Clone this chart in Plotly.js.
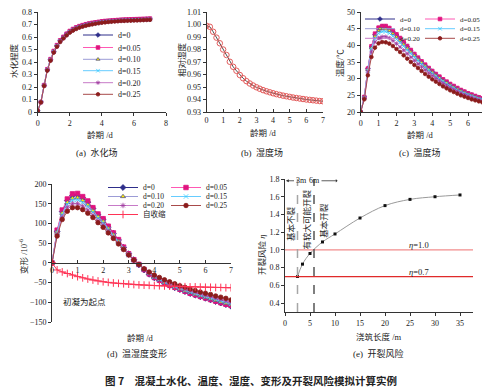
<!DOCTYPE html>
<html><head><meta charset="utf-8">
<script src="https://cdn.plot.ly/plotly-3.0.1.min.js"></script>
<style>html,body{margin:0;padding:0;background:#fff}#chart{width:482px;height:391px}</style>
</head><body><div id="chart"></div>
<script>
// ---------- data ----------
const ages = [0,0.2,0.4,0.6,0.8,1,1.2,1.4,1.6,1.8,2,2.2,2.4,2.6,2.8,3,3.2,3.4,3.6,3.8,4,4.2,4.4,4.6,4.8,5,5.2,5.4,5.6,5.8,6,6.2,6.4,6.6,6.8,7];
const seriesNames = ['d=0','d=0.05','d=0.10','d=0.15','d=0.20','d=0.25'];

// (a) hydration degree
const hyd_d0  = [0.01,0.08,0.215,0.34,0.42,0.485,0.532,0.57,0.598,0.623,0.645,0.661,0.674,0.684,0.692,0.699,0.705,0.71,0.714,0.718,0.722,0.725,0.727,0.729,0.731,0.733,0.735,0.736,0.737,0.738,0.739,0.74,0.741,0.742,0.743,0.744];
const hyd_d05 = [0.01,0.08,0.215,0.342,0.423,0.488,0.535,0.573,0.601,0.626,0.648,0.664,0.677,0.687,0.695,0.702,0.708,0.713,0.717,0.721,0.725,0.728,0.73,0.732,0.734,0.736,0.738,0.739,0.74,0.741,0.742,0.743,0.744,0.745,0.746,0.747];
const hyd_d10 = [0.01,0.08,0.214,0.339,0.419,0.484,0.531,0.569,0.597,0.622,0.644,0.66,0.673,0.683,0.691,0.698,0.704,0.709,0.713,0.717,0.721,0.724,0.726,0.728,0.73,0.732,0.734,0.735,0.736,0.737,0.738,0.739,0.74,0.741,0.742,0.743];
const hyd_d15 = [0.01,0.079,0.212,0.337,0.417,0.482,0.529,0.567,0.595,0.62,0.642,0.658,0.671,0.681,0.689,0.696,0.702,0.707,0.711,0.715,0.719,0.722,0.724,0.726,0.728,0.73,0.732,0.733,0.734,0.735,0.736,0.737,0.738,0.739,0.74,0.741];
const hyd_d20 = [0.01,0.078,0.21,0.334,0.414,0.479,0.526,0.564,0.592,0.617,0.639,0.655,0.668,0.679,0.687,0.694,0.7,0.705,0.709,0.713,0.717,0.72,0.722,0.724,0.726,0.728,0.73,0.731,0.732,0.733,0.734,0.735,0.736,0.737,0.738,0.739];
const hyd_d25 = [0.01,0.077,0.208,0.331,0.41,0.475,0.522,0.56,0.588,0.613,0.635,0.651,0.664,0.675,0.683,0.69,0.696,0.701,0.706,0.71,0.714,0.717,0.72,0.722,0.724,0.726,0.728,0.729,0.73,0.731,0.732,0.733,0.734,0.735,0.736,0.737];

// (b) relative humidity
const humidity = [0.999,0.9982,0.9942,0.9895,0.985,0.98,0.9756,0.9702,0.9662,0.963,0.9596,0.957,0.9547,0.9528,0.9512,0.9498,0.9486,0.9475,0.9466,0.9458,0.945,0.9443,0.9437,0.9431,0.9426,0.9421,0.9416,0.9412,0.9408,0.9404,0.94,0.9397,0.9394,0.9391,0.9388,0.9386];

// (c) temperature
const tmp_d0  = [20,24.5,33,39.5,43.2,45,45.6,45.6,45,44.1,43.1,42,40.8,39.6,38.4,37.2,36.1,35,34,33,32.1,31.2,30.4,29.6,28.9,28.2,27.6,27,26.5,26,25.5,25.1,24.7,24.3,24,23.6];
const tmp_d05 = [20,24.5,33,39.7,43.5,45.3,45.8,45.8,45.2,44.3,43.3,42.2,41,39.8,38.6,37.4,36.3,35.2,34.2,33.2,32.3,31.4,30.6,29.8,29.1,28.4,27.8,27.2,26.6,26.1,25.6,25.2,24.8,24.4,24.1,23.7];
const tmp_d10 = [20,24.3,32.7,39.2,42.7,44.4,44.9,44.9,44.4,43.5,42.5,41.4,40.3,39.1,38,36.9,35.8,34.8,33.8,32.8,31.9,31,30.2,29.4,28.7,28,27.4,26.8,26.3,25.8,25.3,24.9,24.5,24.1,23.8,23.5];
const tmp_d15 = [20,24.2,32.4,38.8,42,43.6,44.1,44.1,43.6,42.8,41.8,40.8,39.7,38.6,37.5,36.4,35.4,34.4,33.4,32.5,31.6,30.7,29.9,29.2,28.5,27.8,27.2,26.6,26.1,25.6,25.2,24.8,24.4,24,23.7,23.4];
const tmp_d20 = [20,24,32,38,41,42.2,42.6,42.6,42.2,41.4,40.5,39.5,38.5,37.5,36.4,35.4,34.4,33.5,32.6,31.7,30.9,30.1,29.3,28.6,27.9,27.3,26.7,26.2,25.7,25.2,24.8,24.4,24,23.7,23.4,23.1];
const tmp_d25 = [20,23.8,31,36.5,39.3,40.6,41,40.9,40.5,39.8,38.9,38,37,36,35,34.1,33.2,32.3,31.4,30.6,29.8,29.1,28.4,27.7,27.1,26.5,26,25.5,25,24.6,24.2,23.8,23.5,23.2,22.9,22.6];

// (d) deformation (1e-6)
const def_d0  = [0,80,130,158,171,172,165,154,138,122,110,91,75,58,39,23,8,-5,-18,-29,-38,-45,-52,-58,-63,-68,-73,-78,-82,-86,-90,-94,-98,-102,-106,-110];
const def_d05 = [0,83,134,162,175,176,168,157,140,124,112,93,76,59,40,23,8,-4,-17,-28,-37,-44,-51,-57,-62,-67,-72,-77,-81,-85,-89,-93,-97,-101,-105,-108];
const def_d10 = [0,78,126,153,164,165,158,147,132,117,105,87,71,55,37,21,7,-5,-17,-27,-36,-43,-50,-56,-61,-66,-71,-75,-79,-83,-87,-91,-95,-99,-102,-106];
const def_d15 = [0,76,122,149,159,160,153,143,129,114,102,85,69,53,36,21,7,-5,-16,-26,-35,-42,-49,-55,-60,-65,-70,-74,-78,-82,-86,-90,-93,-97,-100,-104];
const def_d20 = [0,72,116,141,150,150,144,134,121,107,96,80,65,50,34,19,6,-5,-16,-25,-33,-40,-46,-52,-57,-62,-66,-70,-74,-78,-82,-85,-89,-92,-96,-100];
const def_d25 = [0,68,110,131,140,140,135,126,115,102,90,76,62,48,34,20,7,-4,-15,-23,-31,-37,-43,-48,-53,-58,-62,-66,-70,-74,-77,-80,-84,-87,-90,-94];
const autoShrink = [0,-18,-23,-27,-31,-35,-38,-41,-43.5,-46,-48,-49.5,-51,-52,-53,-54,-55,-56,-56.5,-57,-57.5,-58,-58.5,-59,-59.5,-60,-60.5,-61,-61,-61.5,-62,-62,-62.5,-62.5,-63,-63];

// (e) cracking risk
const pourLength = [2.5,3.5,5,7.5,10,15,20,25,30,35];
const crackRisk  = [0.70,0.84,0.96,1.09,1.18,1.36,1.50,1.57,1.60,1.62];
const riskLevels = [1.0,0.7];
const zoneBounds = [2.5,5.8];
const zoneLabels = ['基本不裂','有较大可能开裂','基本开裂'];

// ---------- styling ----------
const W = 482, H = 391;
const FONT = 'Liberation Serif, Noto Sans CJK SC, serif';
const CJK = 'Liberation Serif, Noto Sans CJK SC, sans-serif';
const px = x => x / W, py = y => 1 - y / H;
const styles = [
  {c:'#2e2e8a', l:'#2e2e8a', s:'diamond', ml:'#2e2e8a'},
  {c:'#e0137f', l:'#ff59b4', s:'square', ml:'#e0137f'},
  {c:'#ffee00', l:'#9c9cd6', s:'triangle-up', ml:'#55558a'},
  {c:'#33ccff', l:'#66ccff', s:'x-thin-open', ml:'#33ccff'},
  {c:'#a03ca0', l:'#c77ac7', s:'asterisk-open', ml:'#a03ca0'},
  {c:'#8b1c1c', l:'#a84a4a', s:'circle', ml:'#8b1c1c'}
];

const traces = [];
const legends = {};
let legN = 0;
function newLegend(xp, yp, size){
  legN++;
  const id = legN === 1 ? 'legend' : 'legend' + legN;
  legends[id] = {x: px(xp), y: py(yp), xanchor:'left', yanchor:'middle',
    bgcolor:'rgba(0,0,0,0)', borderwidth:0, font:{family:FONT, size:size, color:'#222'}};
  return id;
}
function addSeries(ys, i, xa, ya, msize, legX, legY, legSize){
  const st = styles[i];
  traces.push({x: ages, y: ys, name: seriesNames[i], xaxis: xa, yaxis: ya, mode:'lines+markers',
    line:{color: st.l, width:1},
    marker:{symbol: st.s, size: msize, color: st.c, line:{color: st.ml, width:0.8}},
    legend: newLegend(legX, legY, legSize), hoverinfo:'skip'});
}

// (a)
const hydAll = [hyd_d0,hyd_d05,hyd_d10,hyd_d15,hyd_d20,hyd_d25];
const legARows = [35,47.5,59.3,70.7,82.7,94.3];
hydAll.forEach((ys,i)=>addSeries(ys,i,'x','y',3.6,78,legARows[i],8));

// (b)
traces.push({x: ages, y: humidity, xaxis:'x2', yaxis:'y2', mode:'lines+markers', showlegend:false,
  line:{color:'#222', width:0.8}, marker:{symbol:'circle-open', size:5.5, color:'#e35b5b', line:{width:1}}, hoverinfo:'skip'});

// (c)
const tmpAll = [tmp_d0,tmp_d05,tmp_d10,tmp_d15,tmp_d20,tmp_d25];
const legCRows = [19,19,28.7,28.7,38.3,38.3];
const legCX = [360,420,360,420,360,420];
tmpAll.forEach((ys,i)=>addSeries(ys,i,'x3','y3',3.6,legCX[i],legCRows[i],7));

// (d)
const defAll = [def_d0,def_d05,def_d10,def_d15,def_d20,def_d25];
const legDRows = [187.5,187.5,196.5,196.5,205.5,205.5];
const legDX = [103,166,103,166,103,166];
defAll.forEach((ys,i)=>addSeries(ys,i,'x4','y4',4.5,legDX[i],legDRows[i],7.5));
traces.push({x: ages, y: autoShrink, name:'自收缩', xaxis:'x4', yaxis:'y4', mode:'lines+markers',
  line:{color:'#ff3355', width:1}, marker:{symbol:'cross-thin-open', size:5.5, color:'#ff3355', line:{width:1, color:'#ff3355'}},
  legend: newLegend(103, 214.5, 7.5), hoverinfo:'skip'});

// (e)
traces.push({x: pourLength, y: crackRisk, xaxis:'x5', yaxis:'y5', mode:'lines+markers', showlegend:false,
  line:{color:'#9a9a9a', width:1, shape:'spline'}, marker:{symbol:'square', size:3, color:'#111'}, hoverinfo:'skip'});

// ---------- axes ----------
function ax(extra){
  return Object.assign({showgrid:false, zeroline:false, showline:true, linecolor:'#333', linewidth:1,
    ticks:'outside', ticklen:3, tickwidth:1, tickcolor:'#333',
    tickfont:{family:FONT, size:8, color:'#222'}, fixedrange:true}, extra);
}
const domA = [py(112), py(12)];
const domDy = [py(322), py(184)];
const rangeDy = [-150, 200];
const zeroPos = domDy[0] + (0 - rangeDy[0]) / (rangeDy[1] - rangeDy[0]) * (domDy[1] - domDy[0]);

const layout = Object.assign({
  width: W, height: H, margin:{l:0,r:0,t:0,b:0, autoexpand:false},
  paper_bgcolor:'#fff', plot_bgcolor:'rgba(0,0,0,0)', showlegend:true,
  font:{family:FONT, size:8, color:'#222'},
  xaxis:  ax({domain:[px(37.7), px(166)], range:[0,8], dtick:2, anchor:'y'}),
  yaxis:  ax({domain:domA, range:[0,0.8], dtick:0.1, anchor:'x'}),
  xaxis2: ax({domain:[px(206.5), px(323)], range:[0,7], dtick:1, anchor:'y2', ticks:'inside'}),
  yaxis2: ax({domain:domA, range:[0.93,1.01], dtick:0.01, tickformat:'.2f', anchor:'x2'}),
  xaxis3: ax({domain:[px(360.7), 1], range:[0,6.78], dtick:1, anchor:'y3'}),
  yaxis3: ax({domain:domA, range:[20,50], dtick:5, anchor:'x3'}),
  xaxis4: ax({domain:[px(52), px(231)], range:[0,7], dtick:1, anchor:'free', position: zeroPos, ticks:'inside'}),
  yaxis4: ax({domain:domDy, range:rangeDy, dtick:50, anchor:'x4'}),
  xaxis5: ax({domain:[px(285), px(473)], range:[0,37.6], dtick:5, anchor:'y5'}),
  yaxis5: ax({domain:[py(312), py(179)], range:[0.3,1.8], tick0:0.4, dtick:0.2, tickformat:'.1f', anchor:'x5'})
}, legends);

// ---------- shapes ----------
const levelColors = ['#f28c8c','#e02a2a'];
const zoneColors = ['#a6a6a6','#555555'];
layout.shapes = [];
riskLevels.forEach((v,i)=>layout.shapes.push({type:'line', xref:'x5 domain', yref:'y5', x0:0, x1:1, y0:v, y1:v,
  line:{color:levelColors[i], width:1.3}}));
zoneBounds.forEach((v,i)=>layout.shapes.push({type:'line', xref:'x5', yref:'y5 domain', x0:v, x1:v, y0:0, y1:1,
  line:{color:zoneColors[i], width:1.5, dash:'dash'}}));

// ---------- annotations ----------
function pa(text, xp, yp, size, opt){
  return Object.assign({text, x:px(xp), y:py(yp), xref:'paper', yref:'paper', showarrow:false,
    font:{family:CJK, size:size, color:'#222'}, xanchor:'center', yanchor:'middle'}, opt||{});
}
layout.annotations = [
  pa('水化程度', 14, 61, 8.5, {textangle:-90}),
  pa('龄期 /d', 100, 135, 8.5),
  pa('(a)  水化场', 97, 152, 9),
  pa('相对湿度', 182, 60, 8.5, {textangle:-90}),
  pa('龄期 /d', 263, 133, 8.5),
  pa('(b)  湿度场', 262, 152, 9),
  pa('温度/℃', 340, 63, 8.5, {textangle:-90}),
  pa('龄期 /d', 420, 135, 8.5),
  pa('(c)  温度场', 420, 152, 9),
  pa('变形 /10<sup>-6</sup>', 23, 257, 8.5, {textangle:-90}),
  pa('龄期 /d', 140, 338, 8.5),
  pa('(d)  温湿度变形', 137, 353, 9),
  {text:'初凝为起点', x:1.29, y:-98, xref:'x4', yref:'y4', showarrow:false, font:{family:CJK, size:8.5, color:'#222'}},
  pa('开裂风险 <i>η</i>', 262, 255, 8.5, {textangle:-90}),
  pa('浇筑长度 /m', 378, 337, 8.5),
  pa('(e)  开裂风险', 378, 353, 9),
  pa('图 7\u2003混凝土水化、温度、湿度、变形及开裂风险模拟计算实例', 251, 380, 10.5,
     {font:{family:'Noto Sans CJK SC, sans-serif', size:10.5, color:'#222', weight:'bold'}}),
  {text:'<i>η</i>=1.0', x:26.7, y:1.055, xref:'x5', yref:'y5', showarrow:false, font:{family:FONT, size:8.5, color:'#222'}},
  {text:'<i>η</i>=0.7', x:26.7, y:0.747, xref:'x5', yref:'y5', showarrow:false, font:{family:FONT, size:8.5, color:'#222'}},
  {text:zoneLabels[0], x:1.35, y:1.30, xref:'x5', yref:'y5', showarrow:false, textangle:-90, font:{family:CJK, size:8.5, color:'#222'}},
  {text:zoneLabels[1], x:4.35, y:1.34, xref:'x5', yref:'y5', showarrow:false, textangle:-90, font:{family:CJK, size:8.5, color:'#222'}},
  {text:zoneLabels[2], x:7.8, y:1.33, xref:'x5', yref:'y5', showarrow:false, textangle:-90, font:{family:CJK, size:8.5, color:'#222'}},
  {text:'3m', x:0.2, y:1.78, xref:'x5', yref:'y5', ax:15, ay:0, axref:'pixel', ayref:'pixel', showarrow:true,
   arrowhead:2, arrowsize:0.7, arrowwidth:0.8, arrowcolor:'#333', font:{family:FONT, size:8, color:'#222'}},
  {text:'6m', x:10.5, y:1.78, xref:'x5', yref:'y5', ax:-23, ay:0, axref:'pixel', ayref:'pixel', showarrow:true,
   arrowhead:1, arrowsize:0.7, arrowwidth:0.8, arrowcolor:'#333', font:{family:FONT, size:8, color:'#222'}}
];

Plotly.newPlot('chart', traces, layout, {staticPlot:true, displayModeBar:false});
</script>
</body></html>
